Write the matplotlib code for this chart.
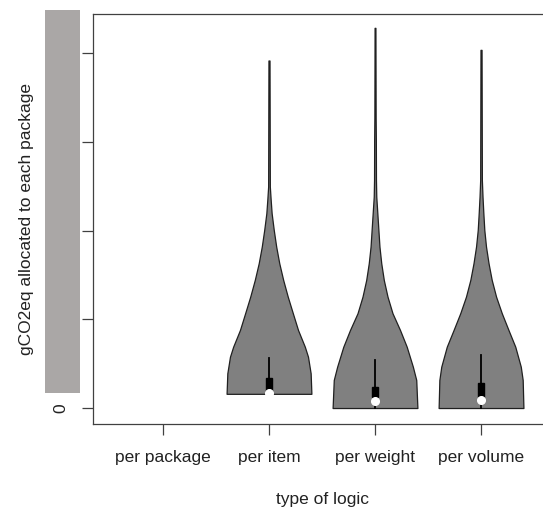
import matplotlib
matplotlib.use('Agg')
import matplotlib.pyplot as plt
from matplotlib.patches import Rectangle

plt.rcParams['font.family'] = ['Liberation Sans', 'DejaVu Sans']

# categories on the x axis
categories = ['per package', 'per item', 'per weight', 'per volume']

# violin outlines: heights and half widths (x units)
item_y = [0.16, 0.391, 0.578, 0.691, 0.879, 1.068, 1.255, 1.443, 1.631, 1.819, 2.007, 2.195, 2.345, 2.495, 3.916]
item_w = [0.40, 0.393, 0.368, 0.338, 0.274, 0.225, 0.177, 0.134, 0.097, 0.068, 0.045, 0.025, 0.016, 0.008, 0.005]

weight_y = [0.0, 0.316, 0.466, 0.691, 0.879, 1.068, 1.255, 1.443, 1.631, 1.819, 2.195, 2.382, 2.57, 3.02, 3.27, 4.284]
weight_w = [0.40, 0.389, 0.357, 0.299, 0.236, 0.165, 0.118, 0.083, 0.059, 0.042, 0.022, 0.012, 0.009, 0.008, 0.006, 0.004]

volume_y = [0.0, 0.316, 0.466, 0.691, 0.879, 1.068, 1.255, 1.443, 1.631, 1.819, 2.007, 2.195, 2.382, 2.57, 4.036]
volume_w = [0.40, 0.393, 0.375, 0.323, 0.259, 0.196, 0.142, 0.101, 0.071, 0.047, 0.031, 0.022, 0.014, 0.008, 0.005]

# box summaries: lower whisker, q1, median, q3, upper whisker
item_box = [0.16, 0.192, 0.169, 0.338, 0.564]
weight_box = [0.0, 0.127, 0.082, 0.24, 0.541]
volume_box = [0.0, 0.124, 0.09, 0.282, 0.598]

violins = [(2, item_y, item_w, item_box),
           (3, weight_y, weight_w, weight_box),
           (4, volume_y, volume_w, volume_box)]

fig = plt.figure(figsize=(5.43, 5.15), dpi=100)
ax = fig.add_axes([93/543, 91/515, 458/543, 410/515])

for pos, ys, ws, box in violins:
    left = [pos - w for w in ws]
    right = [pos + w for w in ws]
    ax.fill_betweenx(ys, left, right, facecolor='#808080', edgecolor='#202020', lw=0.9, zorder=2)
    ax.plot([pos, pos], [box[0], box[4]], color='black', lw=1.3, zorder=3)
    ax.add_patch(Rectangle((pos - 0.03, box[1]), 0.06, box[3] - box[1], facecolor='black', edgecolor='black', zorder=4))
    ax.plot(pos, box[2], 'o', color='white', ms=5.5, zorder=5)

ax.set_xlim(0.34, 4.66)
ax.set_ylim(-0.18, 4.44)
ax.set_xticks([1, 2, 3, 4])
ax.set_xticklabels(categories)
ax.set_yticks([0, 1, 2, 3, 4])
ax.set_yticklabels(['0', '', '', '', ''], rotation=90, va='center')

for s in ax.spines.values():
    s.set_color('#404040')
    s.set_linewidth(0.9)
ax.tick_params(axis='both', length=8, width=0.9, color='#404040', labelsize=12.5, labelcolor='#222222')
ax.tick_params(axis='x', pad=11)
ax.tick_params(axis='y', pad=10)

ax.set_xlabel('type of logic', fontsize=12.5, color='#222222', labelpad=19)
ax.set_ylabel('gCO2eq allocated to each package', fontsize=12.5, color='#222222', labelpad=14)

# grey block covering the y tick labels
fig.patches.append(Rectangle((45/543, 122/515), 35/543, 383/515, transform=fig.transFigure,
                             facecolor='#aaa7a6', edgecolor='none', zorder=5))

fig.savefig('out.png', dpi=100)
